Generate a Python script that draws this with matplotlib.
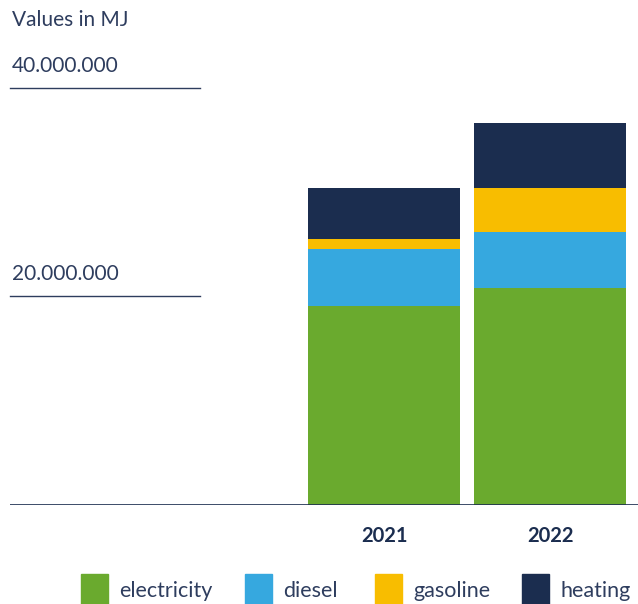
import numpy as np
import matplotlib
matplotlib.use("Agg")
import matplotlib.pyplot as plt
from matplotlib.patches import Rectangle

# Daten (Werte in MJ)
years = ["2021", "2022"]
series = ["electricity", "diesel", "gasoline", "heating"]
electricity = [19100000, 20800000]
diesel = [5400000, 5400000]
gasoline = [950000, 4200000]
heating = [4950000, 6250000]
ticks = [20000000, 40000000]
tick_labels = ["20.000.000", "40.000.000"]

colors = ["#6aaa2e", "#36a8df", "#f8bd00", "#1b2d4f"]
navy = "#1b2d4f"
txt = "#2e3d5e"

plt.rcParams["font.family"] = ["Lato", "DejaVu Sans"]

W, H = 638, 604
fig = plt.figure(figsize=(W / 100, H / 100), dpi=100)
# Achse: 0 bei y=505 px, 40 Mio bei y=87.7 px
ax = fig.add_axes([10 / W, (H - 505) / H, 628 / W, (505 - 87.7) / H])

x = np.arange(len(years))
bottom = np.zeros(len(years))
for vals, c in zip([electricity, diesel, gasoline, heating], colors):
    ax.bar(x, vals, width=152 / 166, bottom=bottom, color=c, linewidth=0)
    bottom += np.array(vals)

ax.set_xlim(-374 / 166, 1 + 88 / 166)
ax.set_ylim(0, 40000000)

# Gitterlinien nur links
for t, lab in zip(ticks, tick_labels):
    ax.plot([0, 190 / 628], [t, t], transform=ax.get_yaxis_transform(),
            color=txt, lw=1, clip_on=False)
    ax.annotate(lab, xy=(0, t), xycoords=("axes fraction", "data"),
                xytext=(2, 16), textcoords="offset pixels",
                fontsize=15, color=txt, va="baseline", ha="left")
ax.axhline(0, color=navy, lw=1.2)

ax.set_xticks(x)
ax.set_xticklabels(years, fontsize=14.5, fontweight="bold", color=navy)
ax.tick_params(axis="x", length=0, pad=15)
ax.set_yticks([])
for s in ax.spines.values():
    s.set_visible(False)

fig.text(12 / W, 1 - 26.5 / H, "Values in MJ", fontsize=15, color=txt,
         va="baseline", ha="left")

# Legende
leg_x = [81, 245, 375, 522]
for lx, name, c in zip(leg_x, series, colors):
    fig.patches.append(Rectangle((lx / W, 0), 27 / W, 30 / H,
                                 transform=fig.transFigure, color=c))
    fig.text((lx + 38) / W, 1 - 597 / H, name, fontsize=15.5, color=txt,
             va="baseline", ha="left")

fig.savefig("out.png", dpi=100)
